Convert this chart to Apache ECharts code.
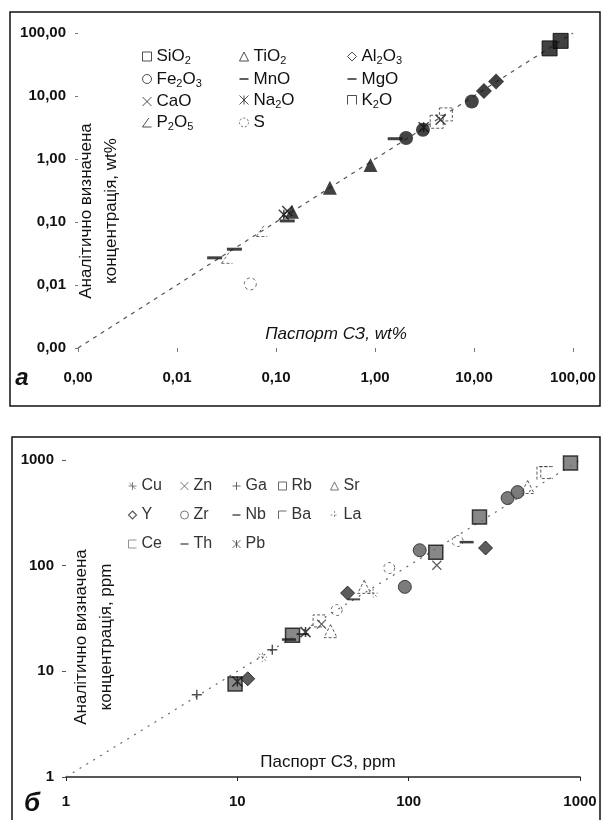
<!DOCTYPE html>
<html><head><meta charset="utf-8">
<script src="https://cdn.jsdelivr.net/npm/echarts@6/dist/echarts.min.js"></script>
<style>html,body{margin:0;padding:0;background:#fff}#c{width:603px;height:820px}</style>
</head><body><div id="c"></div>
<script>
// ---------- Panel а (wt%) : [passport value, analytical value] ----------
const SiO2  = [[58, 57], [75, 75]];
const TiO2  = [[0.145, 0.145], [0.35, 0.35], [0.9, 0.8]];
const Al2O3 = [[12.6, 12], [16.7, 17]];
const Fe2O3 = [[2.06, 2.15], [3.05, 2.9], [9.5, 8.2]];
const MnO   = [[0.024, 0.027], [0.038, 0.037], [0.13, 0.104]];
const MgO   = [[1.6, 2.1]];
const CaO   = [[0.13, 0.15], [4.6, 4.2]];
const Na2O  = [[0.12, 0.13], [3.1, 3.2]];
const K2O   = [[4.2, 3.9], [5.2, 5.1]];
const P2O5  = [[0.032, 0.027], [0.072, 0.072]];
const S     = [[0.055, 0.0104]];
const lineA = [[0.001, 0.001], [100, 100]];
const ticksA = [0.001, 0.01, 0.1, 1, 10, 100];

// ---------- Panel б (ppm) ----------
const Cu = [[14, 13.6], [62, 55]];
const Zn = [[31, 28], [146, 101]];
const Ga = [[5.8, 6.0], [16, 16]];
const Rb = [[9.7, 7.6], [21, 22], [144, 134], [259, 288], [880, 935]];
const Sr = [[35, 24], [55, 63], [495, 555]];
const Y  = [[11.5, 8.5], [44, 55], [281, 147]];
const Zr = [[95, 63], [116, 140], [378, 436], [432, 497]];
const Nb = [[20, 20], [218, 167]];
const Ba = [[612, 752]];
const La = [[38, 38], [77, 95], [193, 171]];
const Ce = [[30, 30], [640, 760]];
const Th = [[24, 22.5], [48, 48]];
const Pb = [[10, 8], [25, 23.5]];
const lineB = [[1, 1], [1000, 1000]];
const ticksB = [1, 10, 100, 1000];

const FONT = 'Arial, "Liberation Sans", sans-serif';
const P = {
  cross: 'path://M0,0L10,10M10,0L0,10',
  star: 'path://M0,0L10,10M10,0L0,10M5,0L5,10',
  plus: 'path://M5,0L5,10M0,5L10,5',
  angle: 'path://M0,10L10,10M0,10L7,0',
  cap: 'path://M0,10L0,0L10,0L10,10',
  corner: 'path://M0,10L0,0L10,0',
  bracket: 'path://M10,0L0,0L0,10L10,10',
  dash: 'path://M0,0L10,0L10,2L0,2Z',
  spark: 'path://M5,0L5,10M0,5L10,5M1,1L9,9'
};

// marker styles (panel а)
const stA = {
  SiO2:  {symbol: 'rect', size: 15, item: {color: '#111', borderColor: '#000', borderWidth: 1}},
  TiO2:  {symbol: 'triangle', size: 14, item: {color: '#111'}},
  Al2O3: {symbol: 'diamond', size: 16, item: {color: '#111'}},
  Fe2O3: {symbol: 'circle', size: 14, item: {color: '#151515'}},
  MnO:   {symbol: 'rect', size: [15, 3], item: {color: '#111'}},
  MgO:   {symbol: 'rect', size: [15, 3], item: {color: '#111'}},
  CaO:   {symbol: P.cross, size: 10, item: {color: 'none', borderColor: '#111', borderWidth: 1.5}},
  Na2O:  {symbol: P.star, size: 10, item: {color: 'none', borderColor: '#111', borderWidth: 1.5}},
  K2O:   {symbol: 'rect', size: 13, item: {color: 'none', borderColor: '#333', borderWidth: 1, borderType: [3, 2]}},
  P2O5:  {symbol: P.angle, size: 11, item: {color: 'none', borderColor: '#444', borderWidth: 1, borderType: [3, 2]}},
  S:     {symbol: 'circle', size: 12, item: {color: 'none', borderColor: '#444', borderWidth: 1, borderType: [3, 3]}}
};
const legA = {
  SiO2:  {icon: 'rect', st: {color: '#fff', borderColor: '#222', borderWidth: 1}},
  TiO2:  {icon: 'triangle', st: {color: '#fff', borderColor: '#222', borderWidth: 1}},
  Al2O3: {icon: 'diamond', st: {color: '#fff', borderColor: '#222', borderWidth: 1}},
  Fe2O3: {icon: 'circle', st: {color: '#fff', borderColor: '#222', borderWidth: 1}},
  MnO:   {icon: P.dash, st: {color: '#222'}},
  MgO:   {icon: P.dash, st: {color: '#222'}},
  CaO:   {icon: P.cross, st: {color: 'none', borderColor: '#222', borderWidth: 1}},
  Na2O:  {icon: P.star, st: {color: 'none', borderColor: '#222', borderWidth: 1}},
  K2O:   {icon: P.cap, st: {color: 'none', borderColor: '#222', borderWidth: 1}},
  P2O5:  {icon: P.angle, st: {color: 'none', borderColor: '#222', borderWidth: 1}},
  S:     {icon: 'circle', st: {color: 'none', borderColor: '#444', borderWidth: 1, borderType: [2, 2]}}
};
// marker styles (panel б)
const stB = {
  Cu: {symbol: P.spark, size: 9, item: {color: 'none', borderColor: '#555', borderWidth: 1, borderType: [2, 2]}},
  Zn: {symbol: P.cross, size: 9, item: {color: 'none', borderColor: '#333', borderWidth: 1.2}},
  Ga: {symbol: P.plus, size: 10, item: {color: 'none', borderColor: '#222', borderWidth: 1.4}},
  Rb: {symbol: 'rect', size: 14, item: {color: '#6a6a6a', borderColor: '#111', borderWidth: 1.5}},
  Sr: {symbol: 'triangle', size: 13, item: {color: 'none', borderColor: '#333', borderWidth: 1, borderType: [3, 2]}},
  Y:  {symbol: 'diamond', size: 14, item: {color: '#333', borderColor: '#111', borderWidth: 1}},
  Zr: {symbol: 'circle', size: 13, item: {color: '#5a5a5a', borderColor: '#222', borderWidth: 1}},
  Nb: {symbol: 'rect', size: [14, 2.5], item: {color: '#111'}},
  Ba: {symbol: P.corner, size: 13, item: {color: 'none', borderColor: '#333', borderWidth: 1, borderType: [3, 2]}},
  La: {symbol: 'circle', size: 11, item: {color: 'none', borderColor: '#444', borderWidth: 1, borderType: [3, 3]}},
  Ce: {symbol: P.bracket, size: 12, item: {color: 'none', borderColor: '#333', borderWidth: 1, borderType: [3, 2]}},
  Th: {symbol: 'rect', size: [12, 2], item: {color: '#222'}},
  Pb: {symbol: P.star, size: 10, item: {color: 'none', borderColor: '#111', borderWidth: 1.5}}
};
const legB = {
  Cu: {icon: P.spark, st: {color: 'none', borderColor: '#666', borderWidth: 1}},
  Zn: {icon: P.cross, st: {color: 'none', borderColor: '#555', borderWidth: 1}},
  Ga: {icon: P.plus, st: {color: 'none', borderColor: '#444', borderWidth: 1}},
  Rb: {icon: 'rect', st: {color: '#fff', borderColor: '#444', borderWidth: 1}},
  Sr: {icon: 'triangle', st: {color: '#fff', borderColor: '#555', borderWidth: 1}},
  Y:  {icon: 'diamond', st: {color: '#fff', borderColor: '#333', borderWidth: 1.2}},
  Zr: {icon: 'circle', st: {color: '#fff', borderColor: '#555', borderWidth: 1}},
  Nb: {icon: P.dash, st: {color: '#333'}},
  Ba: {icon: P.corner, st: {color: 'none', borderColor: '#444', borderWidth: 1}},
  La: {icon: P.plus, st: {color: 'none', borderColor: '#777', borderWidth: 1, borderType: [2, 2]}},
  Ce: {icon: P.bracket, st: {color: 'none', borderColor: '#777', borderWidth: 1}},
  Th: {icon: P.dash, st: {color: '#444'}},
  Pb: {icon: P.star, st: {color: 'none', borderColor: '#444', borderWidth: 1}}
};

const dataA = {SiO2, TiO2, Al2O3, Fe2O3, MnO, MgO, CaO, Na2O, K2O, P2O5, S};
const dataB = {Cu, Zn, Ga, Rb, Sr, Y, Zr, Nb, Ba, La, Ce, Th, Pb};

function scat(name, data, st, idx) {
  return {
    type: 'scatter', name, data, xAxisIndex: idx, yAxisIndex: idx,
    symbol: st.symbol, symbolSize: st.size, itemStyle: st.item, z: 3,
    emphasis: {disabled: true}, silent: true
  };
}
function legend(names, map, left, top, gap, fs, color, iw) {
  return {
    orient: 'vertical', left, top, itemGap: gap, itemWidth: iw, itemHeight: iw, padding: 0,
    selectedMode: false,
    data: names.map(n => ({name: n, icon: map[n].icon, itemStyle: map[n].st})),
    formatter: n => n.replace(/(\D+)|(\d+)/g, (m, a, d) => a ? '{n|' + a + '}' : '{s|' + d + '}'),
    textStyle: {
      fontFamily: FONT, fontSize: fs, color,
      rich: {
        n: {fontFamily: FONT, fontSize: fs, color, lineHeight: 20},
        s: {fontFamily: FONT, fontSize: 11, color, lineHeight: 11, verticalAlign: 'bottom'}
      }
    }
  };
}
function logAxis(gi, min, max, fmt, opts) {
  return Object.assign({
    type: 'log', logBase: 10, gridIndex: gi, min, max,
    splitLine: {show: false},
    axisLabel: {fontFamily: FONT, fontSize: 15, fontWeight: 'bold', color: '#111', formatter: fmt},
  }, opts);
}
const fmtA = v => {
  const t = ticksA.find(x => Math.abs(Math.log10(x) - Math.log10(v)) < 1e-6);
  return (t !== undefined ? t : v).toFixed(2).replace('.', ',');
};
const fmtB = v => {
  const t = ticksB.find(x => Math.abs(Math.log10(x) - Math.log10(v)) < 1e-6);
  return String(t !== undefined ? t : Math.round(v));
};

const series = [
  {type: 'line', data: lineA, xAxisIndex: 0, yAxisIndex: 0, symbol: 'none', z: 1, silent: true,
   lineStyle: {color: '#555', width: 1.2, type: [4, 5]}},
  {type: 'line', data: lineB, xAxisIndex: 1, yAxisIndex: 1, symbol: 'none', z: 1, silent: true,
   lineStyle: {color: '#666', width: 1.2, type: [2, 6]}}
];
Object.keys(dataA).forEach(k => series.push(scat(k, dataA[k], stA[k], 0)));
Object.keys(dataB).forEach(k => series.push(scat(k, dataB[k], stB[k], 1)));

const chart = echarts.init(document.getElementById('c'), null, {renderer: 'canvas'});
chart.setOption({
  animation: false,
  backgroundColor: '#fff',
  grid: [
    {left: 78, right: 30, top: 33, bottom: 472},
    {left: 66, right: 23, top: 460, bottom: 43}
  ],
  xAxis: [
    logAxis(0, 0.001, 100, fmtA, {
      axisLine: {show: false},
      axisTick: {show: true, length: 4, lineStyle: {color: '#777'}},
      axisLabel: {fontFamily: FONT, fontSize: 15, fontWeight: 'bold', color: '#111', formatter: fmtA, margin: 22}
    }),
    logAxis(1, 1, 1000, fmtB, {
      axisLine: {show: true, lineStyle: {color: '#222', width: 1.5}},
      axisTick: {show: true, length: 4, lineStyle: {color: '#222'}},
      axisLabel: {fontFamily: FONT, fontSize: 15, fontWeight: 'bold', color: '#111', formatter: fmtB, margin: 17}
    })
  ],
  yAxis: [
    logAxis(0, 0.001, 100, fmtA, {
      axisLine: {show: false},
      axisTick: {show: true, length: 3, lineStyle: {color: '#777'}},
      axisLabel: {fontFamily: FONT, fontSize: 15, fontWeight: 'bold', color: '#111', formatter: fmtA, margin: 12}
    }),
    logAxis(1, 1, 1000, fmtB, {
      axisLine: {show: false},
      axisTick: {show: true, length: 4, lineStyle: {color: '#555'}},
      axisLabel: {fontFamily: FONT, fontSize: 15, fontWeight: 'bold', color: '#111', formatter: fmtB, margin: 12}
    })
  ],
  legend: [
    legend(['SiO2', 'Fe2O3', 'CaO', 'P2O5'], legA, 140, 48, 4, 17, '#111', 9),
    legend(['TiO2', 'MnO', 'Na2O', 'S'], legA, 237, 48, 4, 17, '#111', 9),
    legend(['Al2O3', 'MgO', 'K2O'], legA, 345, 48, 4, 17, '#111', 9),
    legend(['Cu', 'Y', 'Ce'], legB, 126, 478, 13, 16, '#333', 8),
    legend(['Zn', 'Zr', 'Th'], legB, 178, 478, 13, 16, '#333', 8),
    legend(['Ga', 'Nb', 'Pb'], legB, 230, 478, 13, 16, '#333', 8),
    legend(['Rb', 'Ba'], legB, 276, 478, 13, 16, '#333', 8),
    legend(['Sr', 'La'], legB, 328, 478, 13, 16, '#333', 8)
  ],
  series,
  graphic: [
    {type: 'rect', shape: {x: 10, y: 12, width: 590, height: 394}, style: {fill: 'none', stroke: '#111', lineWidth: 1.5}, silent: true},
    {type: 'rect', shape: {x: 12, y: 437, width: 588, height: 400}, style: {fill: 'none', stroke: '#111', lineWidth: 1.5}, silent: true},
    {type: 'text', x: 22, y: 378, style: {text: 'а', font: 'italic bold 24px ' + FONT, fill: '#111', align: 'center', verticalAlign: 'middle', textAlign: 'center', textVerticalAlign: 'middle'}},
    {type: 'text', x: 32, y: 804, style: {text: 'б', font: 'italic bold 26px ' + FONT, fill: '#111', align: 'center', verticalAlign: 'middle', textAlign: 'center', textVerticalAlign: 'middle'}},
    {type: 'text', x: 99, y: 211, rotation: Math.PI / 2,
     style: {text: 'Аналітично визначена\nконцентрація, wt%', font: '17px ' + FONT, lineHeight: 25, fill: '#111', align: 'center', verticalAlign: 'middle', textAlign: 'center', textVerticalAlign: 'middle'}},
    {type: 'text', x: 336, y: 334,
     style: {text: 'Паспорт СЗ, wt%', font: 'italic 17px ' + FONT, fill: '#111', align: 'center', verticalAlign: 'middle', textAlign: 'center', textVerticalAlign: 'middle'}},
    {type: 'text', x: 94, y: 637, rotation: Math.PI / 2,
     style: {text: 'Аналітично визначена\nконцентрація, ppm', font: '17px ' + FONT, lineHeight: 25, fill: '#111', align: 'center', verticalAlign: 'middle', textAlign: 'center', textVerticalAlign: 'middle'}},
    {type: 'text', x: 328, y: 762,
     style: {text: 'Паспорт СЗ, ppm', font: '17px ' + FONT, fill: '#111', align: 'center', verticalAlign: 'middle', textAlign: 'center', textVerticalAlign: 'middle'}}
  ]
});
</script></body></html>
